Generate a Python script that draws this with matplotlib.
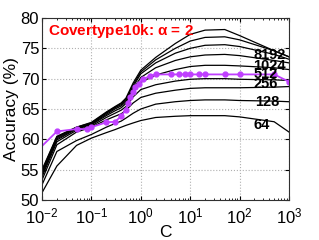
import numpy as np
import matplotlib
matplotlib.use('Agg')
import matplotlib.pyplot as plt

plt.rcParams['font.family'] = ['Liberation Sans', 'DejaVu Sans']

# C values for the black curves (one per sample size)
c_black = [0.01, 0.02, 0.05, 0.1, 0.2, 0.3, 0.4, 0.5, 0.7, 1, 2, 5, 10, 20, 50, 100, 500, 1000]

acc_64 = [51.2, 55.6, 59.0, 60.2, 61.1, 61.6, 62.0, 62.3, 62.7, 63.1, 63.6, 63.8, 63.9, 63.9, 63.9, 63.7, 62.9, 61.2]
acc_128 = [52.5, 58.0, 59.8, 60.8, 62.0, 62.6, 63.0, 63.5, 64.3, 65.0, 65.8, 66.2, 66.4, 66.5, 66.5, 66.4, 66.3, 66.2]
acc_256 = [53.3, 59.1, 61.2, 62.0, 63.2, 63.8, 64.2, 64.8, 66.0, 66.9, 67.6, 68.1, 68.4, 68.5, 68.5, 68.5, 68.6, 68.7]
acc_512 = [53.8, 59.6, 61.5, 62.2, 63.6, 64.3, 64.8, 65.4, 67.0, 68.2, 69.0, 69.6, 69.9, 70.0, 70.0, 69.9, 69.8, 69.7]
acc_1024 = [54.1, 59.9, 61.7, 62.4, 63.9, 64.7, 65.2, 65.9, 67.8, 69.4, 70.6, 71.5, 72.0, 72.2, 72.2, 72.1, 71.8, 71.5]
acc_2048 = [54.4, 60.1, 61.8, 62.5, 64.1, 65.0, 65.5, 66.2, 68.3, 70.2, 71.8, 73.0, 73.6, 73.9, 74.0, 73.8, 73.0, 72.6]
acc_4096 = [54.6, 60.3, 61.9, 62.6, 64.3, 65.2, 65.7, 66.4, 68.7, 70.8, 72.6, 74.2, 75.0, 75.5, 75.6, 75.3, 74.0, 73.2]
acc_8192 = [54.8, 60.4, 62.0, 62.7, 64.4, 65.3, 65.9, 66.6, 69.0, 71.1, 73.1, 75.0, 76.2, 76.8, 76.9, 76.4, 74.6, 73.6]
acc_top = [55.0, 60.5, 62.0, 62.8, 64.5, 65.4, 66.0, 66.8, 69.3, 71.4, 73.5, 75.8, 77.3, 78.0, 78.1, 77.1, 74.6, 73.6]

black_curves = [acc_64, acc_128, acc_256, acc_512, acc_1024, acc_2048, acc_4096, acc_8192, acc_top]

# magenta curve (full data)
c_full = [0.01, 0.02, 0.05, 0.08, 0.1, 0.2, 0.3, 0.4, 0.5, 0.55, 0.6, 0.7, 0.75, 0.9, 1.1, 1.5, 2,
          4, 6, 8, 10, 15, 20, 50, 100, 500, 1000]
acc_full = [58.9, 61.3, 61.7, 61.7, 62.0, 62.8, 62.9, 63.8, 64.9, 66.0, 67.0, 67.8, 68.7, 69.2, 69.9, 70.4, 70.7,
            70.7, 70.7, 70.7, 70.7, 70.7, 70.7, 70.7, 70.7, 70.7, 69.5]

# curve labels
label_text = ['8192', '1024', '512', '256', '128', '64']
label_c = [400, 400, 330, 330, 370, 280]
label_acc = [73.9, 72.1, 70.7, 69.2, 66.1, 62.3]

fig = plt.figure(figsize=(3.19, 2.40), dpi=100)
ax = fig.add_axes([0.1317, 0.1667, 0.7743, 0.7583])

for acc in black_curves:
    ax.plot(c_black, acc, color='black', lw=0.9)

ax.plot(c_full, acc_full, color='#bf3fff', lw=1.3, marker='o', markersize=3.5,
        markevery=list(range(1, len(c_full))))

for t, cx, cy in zip(label_text, label_c, label_acc):
    ax.text(cx, cy, t, fontsize=10.5, fontweight='bold', ha='center', va='center')

ax.text(0.0135, 77.2, r'Covertype10k: $\mathregular{\alpha}$ = 2', color='red', fontsize=11,
        fontweight='bold', va='baseline')

ax.set_xscale('log')
ax.set_xlim(0.01, 1000)
ax.set_ylim(50, 80)
ax.set_yticks([50, 55, 60, 65, 70, 75, 80])
ax.set_xticks([0.01, 0.1, 1, 10, 100, 1000])
ax.grid(True, which='major', linestyle=':', color='#b0b0b0', lw=0.8)
ax.tick_params(which='both', direction='in', top=True, right=True, labelsize=12)
ax.tick_params(axis='y', pad=2)
ax.tick_params(axis='x', pad=5)
ax.tick_params(which='major', length=3)
ax.tick_params(which='minor', length=1.5)
for s in ax.spines.values():
    s.set_color('#303030')
    s.set_linewidth(0.8)

ax.set_xlabel('C', fontsize=12.5, labelpad=-1)
ax.set_ylabel('Accuracy (%)', fontsize=12.5, labelpad=1)

fig.savefig('out.png', dpi=100)
